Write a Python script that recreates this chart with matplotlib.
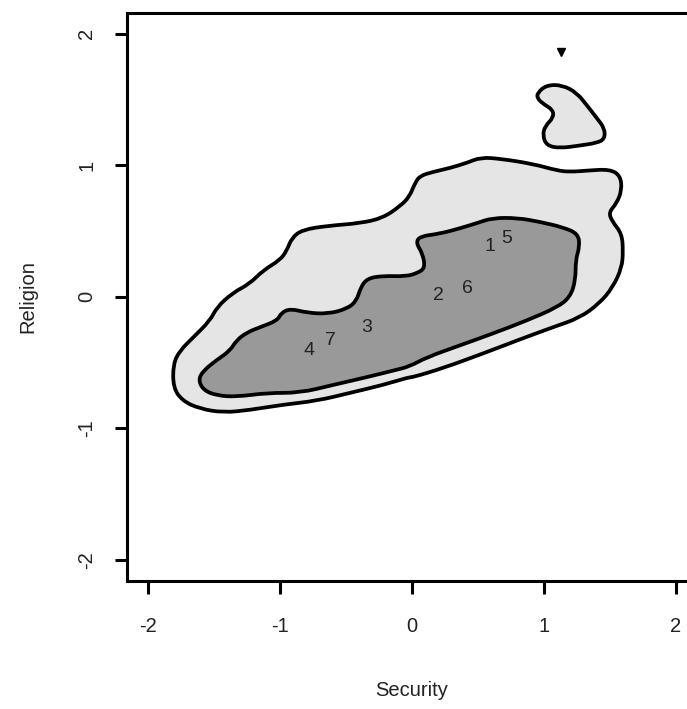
import matplotlib
matplotlib.use("Agg")
import matplotlib.pyplot as plt
from matplotlib.path import Path
from matplotlib.patches import PathPatch

# outer (light) contour, data units
outer_x = [-0.09, -0.22, -0.39, -0.64, -0.83, -0.91, -0.95, -1.00, -1.13, -1.23, -1.36, -1.48, -1.53,
           -1.66, -1.76, -1.81, -1.81, -1.74, -1.61, -1.43, -1.23, -0.98, -0.72, -0.47, -0.22, -0.02,
           0.01, 0.24, 0.54, 0.80, 1.07, 1.27, 1.42, 1.52, 1.59, 1.60, 1.59, 1.52, 1.49, 1.55, 1.59,
           1.58, 1.50, 1.33, 1.20, 1.10, 0.92, 0.67, 0.52, 0.42, 0.29, 0.16, 0.06, 0.02, -0.02]
outer_y = [0.69, 0.60, 0.56, 0.54, 0.51, 0.45, 0.35, 0.28, 0.20, 0.10, 0.03, -0.08, -0.18,
           -0.31, -0.41, -0.51, -0.69, -0.79, -0.85, -0.88, -0.86, -0.82, -0.79, -0.73, -0.67, -0.61,
           -0.61, -0.54, -0.43, -0.33, -0.23, -0.16, -0.05, 0.07, 0.22, 0.35, 0.48, 0.57, 0.64, 0.71, 0.81,
           0.92, 0.97, 0.96, 0.95, 0.96, 1.01, 1.05, 1.06, 1.02, 0.98, 0.95, 0.92, 0.86, 0.76]

# inner (dark) contour
inner_x = [-0.05, -0.22, -0.34, -0.39, -0.42, -0.49, -0.64, -0.80, -0.92, -0.99, -1.02, -1.15, -1.25,
           -1.33, -1.38, -1.48, -1.58, -1.62, -1.58, -1.48, -1.33, -1.10, -0.85, -0.60, -0.34, -0.14,
           -0.02, 0.11, 0.36, 0.61, 0.87, 1.10, 1.20, 1.24, 1.24, 1.27, 1.26, 1.14, 0.97, 0.80, 0.61,
           0.49, 0.36, 0.21, 0.06, 0.03, 0.08, 0.10, 0.04]
inner_y = [0.155, 0.16, 0.14, 0.07, -0.03, -0.09, -0.13, -0.12, -0.09, -0.12, -0.18, -0.23, -0.27,
           -0.33, -0.41, -0.48, -0.56, -0.63, -0.71, -0.75, -0.76, -0.73, -0.73, -0.67, -0.61, -0.56,
           -0.53, -0.46, -0.37, -0.28, -0.18, -0.08, 0.00, 0.13, 0.28, 0.38, 0.48, 0.53, 0.57, 0.60, 0.60,
           0.56, 0.52, 0.48, 0.46, 0.41, 0.33, 0.22, 0.18]

# small island top right
island_x = [0.95, 1.02, 1.14, 1.25, 1.33, 1.40, 1.46, 1.46, 1.40, 1.27, 1.12, 1.02, 0.99, 1.01, 1.07, 1.07, 0.99, 0.95]
island_y = [1.55, 1.61, 1.61, 1.55, 1.45, 1.36, 1.28, 1.20, 1.17, 1.15, 1.13, 1.15, 1.23, 1.30, 1.36, 1.42, 1.47, 1.51]

peak_x, peak_y = 1.13, 1.86

# group labels
lab_text = ['1', '2', '3', '4', '5', '6', '7']
lab_x = [0.59, 0.20, -0.34, -0.78, 0.72, 0.42, -0.62]
lab_y = [0.38, 0.01, -0.23, -0.41, 0.44, 0.06, -0.33]

ticks = [-2, -1, 0, 1, 2]


def smooth_patch(xs, ys, fc):
    # traced points used as quadratic bezier control points -> rounded outline
    pts = list(zip(xs, ys))
    n = len(pts)
    mids = [((pts[i][0] + pts[(i + 1) % n][0]) / 2, (pts[i][1] + pts[(i + 1) % n][1]) / 2) for i in range(n)]
    verts = [mids[-1]]
    codes = [Path.MOVETO]
    for i in range(n):
        verts += [pts[i], mids[i]]
        codes += [Path.CURVE3, Path.CURVE3]
    verts.append(mids[-1])
    codes.append(Path.CLOSEPOLY)
    return PathPatch(Path(verts, codes), facecolor=fc, edgecolor='black', linewidth=2.7, joinstyle='round')


plt.rcParams['font.family'] = ['Liberation Sans', 'DejaVu Sans']
fig = plt.figure(figsize=(6.87, 7.09), dpi=100)
ax = fig.add_axes([127 / 687, 1 - 581 / 709, 570 / 687, 568.3 / 709])

ax.add_patch(smooth_patch(outer_x, outer_y, '#e5e5e5'))
ax.add_patch(smooth_patch(island_x, island_y, '#e5e5e5'))
ax.add_patch(smooth_patch(inner_x, inner_y, '#999999'))
ax.plot([peak_x], [peak_y], marker='v', color='black', markersize=5.5, linestyle='none')

for t, x, y in zip(lab_text, lab_x, lab_y):
    ax.text(x, y, t, ha='center', va='center', fontsize=14, color='#222222')

ax.set_xlim(-2.16, 2.16)
ax.set_ylim(-2.16, 2.16)
ax.set_xticks(ticks)
ax.set_yticks(ticks)
ax.set_xticklabels([str(t) for t in ticks])
ax.set_yticklabels([str(t) for t in ticks])
ax.tick_params(axis='both', length=9, width=2.2, labelsize=14.5, labelcolor='#222222')
ax.tick_params(axis='x', pad=17)
ax.tick_params(axis='y', pad=13, labelrotation=90)
for lbl in ax.get_yticklabels():
    lbl.set_va('center')
for s in ax.spines.values():
    s.set_linewidth(2.2)

ax.set_xlabel('Security', fontsize=14.5, color='#222222')
ax.set_ylabel('Religion', fontsize=14.5, color='#222222')
ax.xaxis.set_label_coords(0.5, -(690 - 581) / 568.3)
ax.xaxis.label.set_va('center')
ax.yaxis.set_label_coords(-(127 - 28) / 570, 0.5)
ax.yaxis.label.set_va('center')

fig.savefig('out.png', dpi=100)
